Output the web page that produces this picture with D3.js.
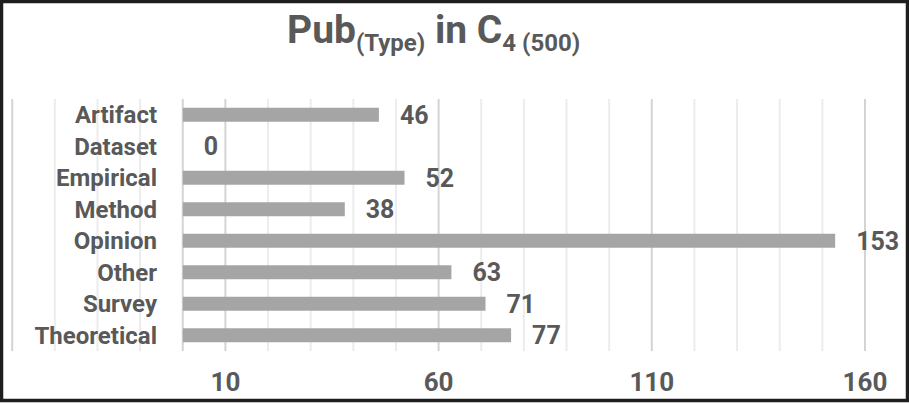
<!DOCTYPE html>
<html>
<head>
<meta charset="utf-8">
<script src="https://cdn.jsdelivr.net/npm/d3@7"></script>
<style>
  body { margin: 0; background: #fff; }
  text { font-family: Roboto, "Open Sans", sans-serif; fill: #595959; }
</style>
</head>
<body>
<div id="chart"></div>
<script>
// data
var categories = ['Artifact', 'Dataset', 'Empirical', 'Method', 'Opinion', 'Other', 'Survey', 'Theoretical'];
var counts = [46, 0, 52, 38, 153, 63, 71, 77];
var tickLabels = [10, 60, 110, 160];
var gridValues = d3.range(-40, 161, 10);

var width = 909, height = 404;

var svg = d3.select('#chart')
    .append('svg')
    .attr('width', width)
    .attr('height', height);

// outer frame
svg.append('rect')
    .attr('x', 1.5).attr('y', 1.5)
    .attr('width', width - 3).attr('height', height - 5)
    .attr('fill', '#fff')
    .attr('stroke', '#1e1e1e')
    .attr('stroke-width', 3.5);

var x = d3.scaleLinear()
    .domain([-40, 160])
    .range([12.2, 865]);

var y = d3.scaleBand()
    .domain(categories)
    .range([99, 351])
    .paddingInner(0.556)
    .paddingOuter(0.278);

// gridlines
svg.append('g')
    .selectAll('line')
    .data(gridValues)
    .enter()
    .append('line')
    .attr('x1', function(d) { return x(d); })
    .attr('x2', function(d) { return x(d); })
    .attr('y1', 99)
    .attr('y2', 351)
    .attr('stroke', function(d) {
        return ((d - 10) % 50 === 0 || d === 0) ? '#d4d4d4' : '#ececec';
    })
    .attr('stroke-width', 2);

// bars
svg.append('g')
    .selectAll('rect')
    .data(counts)
    .enter()
    .append('rect')
    .attr('x', x(0))
    .attr('y', function(d, i) { return y(categories[i]); })
    .attr('width', function(d) { return x(d) - x(0); })
    .attr('height', y.bandwidth())
    .attr('fill', '#a5a5a5');

// value labels
svg.append('g')
    .selectAll('text')
    .data(counts)
    .enter()
    .append('text')
    .attr('x', function(d) { return x(d) + 21; })
    .attr('y', function(d, i) { return y(categories[i]) + y.bandwidth() / 2; })
    .attr('dy', '0.36em')
    .attr('font-size', '25px')
    .attr('font-weight', 'bold')
    .text(function(d) { return d; });

// category labels
svg.append('g')
    .selectAll('text')
    .data(categories)
    .enter()
    .append('text')
    .attr('x', 157)
    .attr('y', function(d) { return y(d) + y.bandwidth() / 2; })
    .attr('dy', '0.36em')
    .attr('text-anchor', 'end')
    .attr('font-size', '24px')
    .attr('font-weight', 'bold')
    .text(function(d) { return d; });

// x tick labels
svg.append('g')
    .selectAll('text')
    .data(tickLabels)
    .enter()
    .append('text')
    .attr('x', function(d) { return x(d); })
    .attr('y', 391)
    .attr('text-anchor', 'middle')
    .attr('font-size', '26px')
    .attr('font-weight', 'bold')
    .text(function(d) { return d; });

// title with subscripts
var title = svg.append('text')
    .attr('x', 287)
    .attr('y', 43)
    .attr('font-size', '39px')
    .attr('font-weight', 'bold');
title.append('tspan').text('Pub');
title.append('tspan').attr('font-size', '24px').attr('dy', 8).text('(Type)');
title.append('tspan').attr('dy', -8).text(' in C');
title.append('tspan').attr('font-size', '24px').attr('dy', 8).text('4 (500)');
</script>
</body>
</html>
